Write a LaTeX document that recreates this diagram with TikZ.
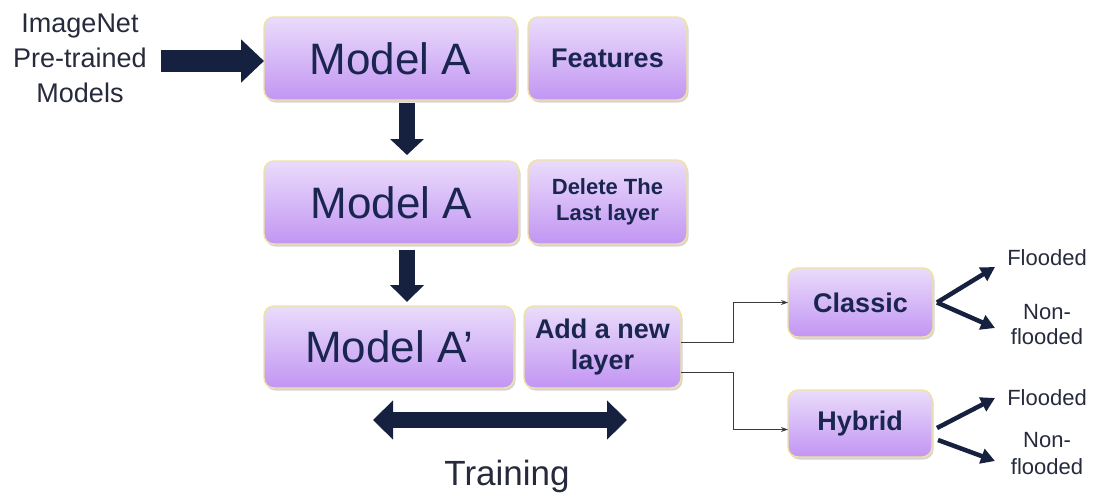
\documentclass[tikz,border=0pt]{standalone}
\usepackage{fontspec}
\setmainfont{Liberation Sans}
\usetikzlibrary{arrows.meta,calc,shadows}

\definecolor{navy}{HTML}{1B2650}
\definecolor{ink}{HTML}{262A3C}
\definecolor{arrowc}{HTML}{16213F}
\definecolor{boxtop}{HTML}{EADCFB}
\definecolor{boxbot}{HTML}{C295F3}
\definecolor{boxline}{HTML}{EEE4A0}
\definecolor{linkc}{HTML}{3A3A3A}

\tikzset{
  box/.style={rounded corners=10pt, top color=boxtop, bottom color=boxbot,
    draw=boxline, line width=1.4pt, text=navy, align=center,
    inner sep=0pt, outer sep=0pt,
    drop shadow={shadow xshift=1.5pt, shadow yshift=-2.5pt, opacity=0.28, fill=black!60}},
  bigtxt/.style={font=\fontsize{44}{48}\selectfont},
  midtxt/.style={font=\fontsize{27}{31}\selectfont\bfseries},
  smalltxt/.style={font=\fontsize{22}{26}\selectfont\bfseries},
  plain/.style={text=ink, align=center, inner sep=0pt},
  blockarrow/.style={draw=arrowc, line width=#1},
  link/.style={draw=linkc, line width=1pt, -{Stealth[length=7pt,width=5pt]}},
  fan/.style={draw=arrowc, line width=4.5pt, -{Triangle[length=14pt,width=15pt]}},
}

\begin{document}
\begin{tikzpicture}[x=1pt,y=-1pt]
\useasboundingbox (0,0) rectangle (1099,496);

% source label
\node[plain, font=\fontsize{27}{35}\selectfont] (src) at (80,58)
  {ImageNet\\Pre-trained\\Models};

% column of model boxes
\node[box, bigtxt, minimum width=253pt, minimum height=83pt] (mA1) at (390.5,58.5) {Model A};
\node[box, midtxt, minimum width=159pt, minimum height=83pt] (feat) at (607.5,58.5) {Features};

\node[box, bigtxt, minimum width=255pt, minimum height=83pt] (mA2) at (391.5,202.5) {Model A};
\node[box, smalltxt, minimum width=159pt, minimum height=84pt] (del) at (607.5,202) {Delete The\\Last layer};

\node[box, bigtxt, minimum width=250pt, minimum height=82pt] (mA3) at (389,347) {Model A’};
\node[box, midtxt, minimum width=157pt, minimum height=82pt] (add) at (602.5,347) {Add a new\\layer};

% classifiers
\node[box, midtxt, minimum width=145pt, minimum height=69pt] (cls) at (860.5,302.5) {Classic};
\node[box, midtxt, minimum width=144pt, minimum height=67pt] (hyb) at (860,423.5) {Hybrid};

% outputs
\node[plain, font=\fontsize{22}{26}\selectfont] (f1) at (1047,258) {Flooded};
\node[plain, font=\fontsize{22}{25}\selectfont] (n1) at (1047,325) {Non-\\flooded};
\node[plain, font=\fontsize{22}{26}\selectfont] (f2) at (1047,398) {Flooded};
\node[plain, font=\fontsize{22}{27}\selectfont] (n2) at (1047,454) {Non-\\flooded};

\node[plain, font=\fontsize{35}{40}\selectfont] (train) at (507,476) {Training};

% block arrows
\coordinate (dx) at (407,0);
\draw[blockarrow=22pt, -{Triangle[width=42pt,length=23pt]}]
  ($(src.east)+(14,3)$) -- (mA1.west |- 0,61);
\draw[blockarrow=16pt, -{Triangle[width=33pt,length=16pt]}]
  ($(dx |- mA1.south)+(0,3)$) -- ($(dx |- mA2.north)+(0,-6)$);
\draw[blockarrow=16pt, -{Triangle[width=33pt,length=17pt]}]
  ($(dx |- mA2.south)+(0,6)$) -- ($(dx |- mA3.north)+(0,-4)$);

% training span
\coordinate (tl) at (373,420);
\coordinate (tr) at (627,420);
\draw[blockarrow=16pt, {Triangle[width=38pt,length=20pt]}-{Triangle[width=38pt,length=20pt]}] (tl) -- (tr);

% links to the classifiers
\draw[link] ($(add.east)+(0,-5)$) -- ++(52,0) |- (cls.west);
\draw[link] ($(add.east)+(0,25)$) -- ++(52,0) |- ($(hyb.west)+(0,6)$);

% classifier outputs
\draw[fan] ($(cls.east)+(4,0)$) -- ($(f1)+(-52,9)$);
\draw[fan] ($(cls.east)+(4,0)$) -- ($(n1)+(-52,3)$);
\draw[fan] ($(hyb.east)+(5,4.5)$) -- ($(f2)+(-52,0)$);
\draw[fan] ($(hyb.east)+(6,16.5)$) -- ($(n2)+(-52,7)$);
\end{tikzpicture}
\end{document}
